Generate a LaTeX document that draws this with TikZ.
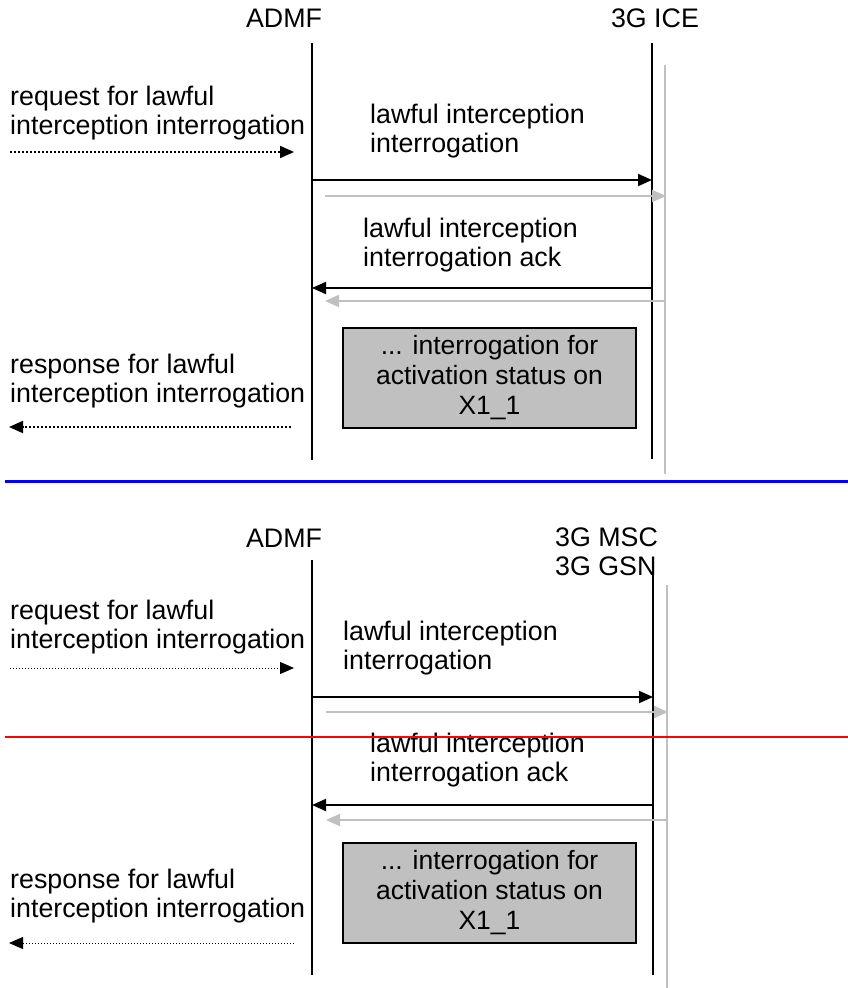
\documentclass[tikz,border=0pt]{standalone}
\usepackage{fontspec}
\setmainfont{Liberation Sans}
\usetikzlibrary{arrows.meta}
\definecolor{lgrey}{HTML}{C0C0C0}
\definecolor{boxgrey}{HTML}{C0C0C0}
\tikzset{
  lbl/.style={inner sep=0pt, anchor=west, align=left, font=\fontsize{26.8}{28.5}\selectfont},
  ent/.style={inner sep=0pt, font=\fontsize{26.8}{28.5}\selectfont},
  life/.style={line width=2pt, black},
  glife/.style={line width=1.5pt, lgrey},
  msg/.style={line width=2pt, black, -{Triangle[length=14pt,width=12pt]}},
  gmsg/.style={line width=2pt, lgrey, -{Triangle[length=14pt,width=12pt]}},
  dmsg/.style={line width=2pt, black, dotted, -{Triangle[length=14pt,width=12pt]}},
  dmsgthin/.style={line width=1pt, black, dotted, -{Triangle[length=14pt,width=12pt]}},
  statbox/.style={draw=black, line width=2.5pt, fill=boxgrey, minimum width=293pt, minimum height=100pt, inner sep=0pt, align=center, font=\fontsize{26.5}{30}\selectfont}
}
\begin{document}
\begin{tikzpicture}[x=1pt,y=-1pt]
\useasboundingbox (0,0) rectangle (848,988);
% ---------------- top part ----------------
\node[ent] (admfA) at (284,18) {ADMF};
\node[ent] (iceA) at (655,18) {3G ICE};
\coordinate (aTop) at (312,43);
\coordinate (aBot) at (312,460);
\coordinate (bTop) at (652,43);
\coordinate (bBot) at (652,459);
\coordinate (gTop) at (665,65);
\coordinate (gBot) at (665,474);
\draw[life] (aTop) -- (aBot);
\draw[life] (bTop) -- (bBot);
\draw[glife] (gTop) -- (gBot);

\node[lbl] (reqA) at (10,113) {request for lawful\\interception interrogation};
\coordinate (reqAs) at (10,152);
\coordinate (reqAe) at (294,152);
\draw[dmsg] (reqAs) -- (reqAe);

\node[lbl] (liiA) at (370,131) {lawful interception\\interrogation};
\coordinate (m1s) at (312,180);
\coordinate (m1e) at (652,180);
\draw[msg] (m1s) -- (m1e);
\coordinate (g1s) at (325,196);
\coordinate (g1e) at (666,196);
\draw[gmsg] (g1s) -- (g1e);

\node[lbl] (ackA) at (363,245) {lawful interception\\interrogation ack};
\coordinate (m2s) at (652,288);
\coordinate (m2e) at (312,288);
\draw[msg] (m2s) -- (m2e);
\coordinate (g2s) at (665,301);
\coordinate (g2e) at (325,301);
\draw[gmsg] (g2s) -- (g2e);

\node[statbox] (boxA) at (489.5,378) {... interrogation for\\activation status on\\X1\_1};

\node[lbl] (respA) at (10,381) {response for lawful\\interception interrogation};
\coordinate (rsAs) at (291,427);
\coordinate (rsAe) at (9,427);
\draw[dmsg] (rsAs) -- (rsAe);

% separator
\coordinate (blueL) at (5,481.5);
\coordinate (blueR) at (848,481.5);
\draw[blue, line width=3pt] (blueL) -- (blueR);

% ---------------- bottom part ----------------
\node[ent] (admfB) at (284,538) {ADMF};
\node[lbl, font=\fontsize{26.8}{29}\selectfont] (mscB) at (555,552) {3G MSC\\3G GSN};
\coordinate (aTopB) at (312,560);
\coordinate (aBotB) at (312,975);
\coordinate (bTopB) at (653,560);
\coordinate (bBotB) at (653,975);
\coordinate (gTopB) at (667,585);
\coordinate (gBotB) at (667,988);
\draw[life] (aTopB) -- (aBotB);
\draw[life] (bTopB) -- (bBotB);
\draw[glife] (gTopB) -- (gBotB);

\node[lbl] (reqB) at (10,627) {request for lawful\\interception interrogation};
\coordinate (reqBs) at (10,668);
\coordinate (reqBe) at (294,668);
\draw[dmsgthin] (reqBs) -- (reqBe);

\node[lbl] (liiB) at (343,648) {lawful interception\\interrogation};
\coordinate (m3s) at (312,697);
\coordinate (m3e) at (653,697);
\draw[msg] (m3s) -- (m3e);
\coordinate (g3s) at (326,712);
\coordinate (g3e) at (668,712);
\draw[gmsg] (g3s) -- (g3e);

\node[lbl] (ackB) at (370,760) {lawful interception\\interrogation ack};
\coordinate (m4s) at (653,805);
\coordinate (m4e) at (312,805);
\draw[msg] (m4s) -- (m4e);
\coordinate (g4s) at (667,820);
\coordinate (g4e) at (326,820);
\draw[gmsg] (g4s) -- (g4e);

\node[statbox] (boxB) at (489.5,893) {... interrogation for\\activation status on\\X1\_1};

\node[lbl] (respB) at (10,896) {response for lawful\\interception interrogation};
\coordinate (rsBs) at (294,943);
\coordinate (rsBe) at (9,943);
\draw[dmsgthin] (rsBs) -- (rsBe);

% red line
\coordinate (redL) at (5,737);
\coordinate (redR) at (848,737);
\draw[red, line width=2pt] (redL) -- (redR);
\end{tikzpicture}
\end{document}
